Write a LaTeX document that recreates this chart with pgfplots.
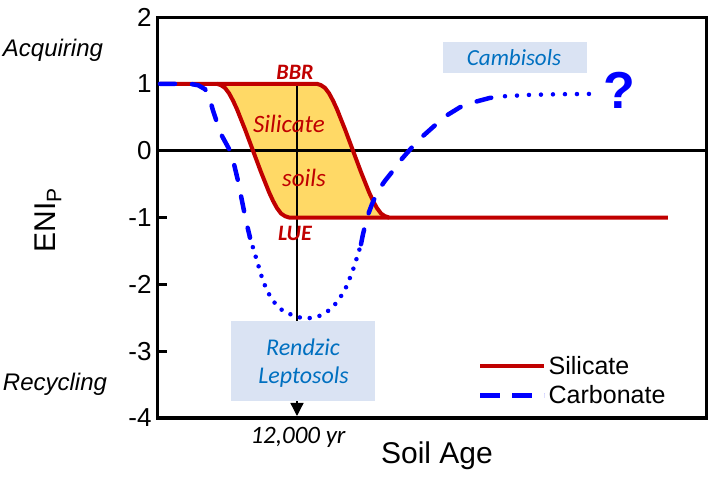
\documentclass[border=0pt]{standalone}
\usepackage{pgfplots}
\pgfplotsset{compat=1.18}
\usepackage{fontspec}
\setmainfont{Liberation Sans}
\newfontfamily\calfont{Carlito}
\usetikzlibrary{arrows.meta}
\definecolor{sred}{HTML}{C00000}
\definecolor{cblue}{HTML}{0000FF}
\definecolor{sfill}{HTML}{FFD966}
\definecolor{boxblue}{HTML}{DAE3F3}
\definecolor{tblue}{HTML}{0070C0}
\begin{document}
\begin{tikzpicture}
\begin{axis}[
  x=1bp, y=66.83bp,
  xmin=158, xmax=707, ymin=-4, ymax=2,
  axis line style={line width=3bp},
  xtick=\empty,
  ytick={-4,-3,...,2},
  ytick pos=left,
  tick align=inside,
  major tick length=9bp,
  major tick style={line width=3bp, black},
  /pgf/number format/assume math mode=true,
  yticklabel style={font=\fontsize{26bp}{30bp}\selectfont, xshift=-3bp},
  clip=false,
  legend image code/.code={\draw[#1] (0bp,0bp) -- (64bp,0bp);},
  legend style={at={(axis cs:478,-3.04)}, anchor=north west, draw=none, fill=none,
    inner sep=0pt, font=\fontsize{25bp}{30bp}\selectfont, row sep=6bp,
    cells={anchor=west}},
]
\addlegendimage{sred, line width=4bp}
\addlegendentry{Silicate}
\addlegendimage{cblue, line width=4.5bp, dash pattern=on 20bp off 12bp}
\addlegendentry{Carbonate}

% fill between silicate curves
\addplot[fill=sfill, draw=none, forget plot] coordinates {
(217,1)(221,0.98)(225,0.94)(229,0.86)(233,0.75)(237,0.62)(241,0.47)(245,0.32)(249,0.16)(253,0)
(257,-0.16)(261,-0.32)(265,-0.47)(269,-0.62)(273,-0.75)(277,-0.86)(281,-0.94)(285,-0.98)(289,-1)
(389,-1)(385,-0.98)(381,-0.94)(377,-0.86)(373,-0.75)(369,-0.62)(365,-0.47)(361,-0.32)(357,-0.16)
(353,0)(349,0.16)(345,0.32)(341,0.47)(337,0.62)(333,0.75)(329,0.86)(325,0.94)(321,0.98)(317,1)(217,1)};

% zero line
\addplot[black, line width=3bp, forget plot] coordinates {(158,0)(707,0)};

% 12,000 yr marker line
\addplot[black, line width=1.3bp, -{Triangle[length=13bp,width=13bp]}, forget plot] coordinates {(297,1)(297,-3.97)};

% silicate curves
\addplot[sred, line width=4bp, line join=round, forget plot] coordinates {
(160,1)(317,1)(321,0.98)(325,0.94)(329,0.86)(333,0.75)(337,0.62)(341,0.47)(345,0.32)(349,0.16)
(353,0)(357,-0.16)(361,-0.32)(365,-0.47)(369,-0.62)(373,-0.75)(377,-0.86)(381,-0.94)(385,-0.98)(389,-1)(668,-1)};
\addplot[sred, line width=4bp, line join=round, forget plot] coordinates {
(217,1)(221,0.98)(225,0.94)(229,0.86)(233,0.75)(237,0.62)(241,0.47)(245,0.32)(249,0.16)(253,0)
(257,-0.16)(261,-0.32)(265,-0.47)(269,-0.62)(273,-0.75)(277,-0.86)(281,-0.94)(285,-0.98)(289,-1)(389,-1)};

% carbonate curve
\addplot[cblue, line width=4.5bp, line cap=round, dash pattern=on 15bp off 17bp, forget plot] coordinates {
(160,1)(190,1)(198,0.98)(205,0.92)(209,0.82)(213,0.6)(217,0.42)(222,0.22)(230,0)(234,-0.2)(238,-0.45)
(242,-0.75)(246,-1.05)(250,-1.3)};
\addplot[cblue, line width=4.5bp, line cap=round, dash pattern=on 0bp off 10bp, forget plot] coordinates {
(250,-1.3)(254,-1.5)(258,-1.7)(263,-1.95)(268,-2.12)(273,-2.25)(283,-2.4)(297,-2.49)(308,-2.51)
(320,-2.47)(330,-2.38)(338,-2.25)(345,-2.08)(352,-1.83)(358,-1.55)(361,-1.4)};
\addplot[cblue, line width=4.5bp, line cap=round, dash pattern=on 15bp off 17bp, forget plot] coordinates {
(361,-1.4)(363,-1.25)(367,-1.0)(372,-0.8)(378,-0.6)(385,-0.45)(393,-0.3)(402,-0.12)(412,0.05)
(423,0.22)(435,0.38)(447,0.53)(460,0.65)(475,0.73)(490,0.79)(505,0.815)};
\addplot[cblue, line width=4.5bp, line cap=round, dash pattern=on 0bp off 12bp, forget plot] coordinates {
(505,0.815)(530,0.835)(560,0.845)(595,0.85)};

% boxes
\fill[boxblue] (axis cs:231,-2.549) rectangle (axis cs:375,-3.746);
\fill[boxblue] (axis cs:443,1.626) rectangle (axis cs:587,1.162);

% annotations
\node[text=tblue, font=\calfont\itshape\fontsize{24bp}{28bp}\selectfont] at (axis cs:303,-2.94) {Rendzic};
\node[text=tblue, font=\calfont\itshape\fontsize{24bp}{28bp}\selectfont] at (axis cs:303.5,-3.39) {Leptosols};
\node[text=tblue, font=\calfont\itshape\fontsize{23bp}{28bp}\selectfont] at (axis cs:514,1.40) {Cambisols};
\node[text=sred, font=\calfont\bfseries\itshape\fontsize{22bp}{26bp}\selectfont] at (axis cs:295,1.17) {BBR};
\node[text=sred, font=\calfont\bfseries\itshape\fontsize{22bp}{26bp}\selectfont] at (axis cs:295,-1.24) {LUE};
\node[text=sred, font=\calfont\itshape\fontsize{25bp}{30bp}\selectfont] at (axis cs:289,0.40) {Silicate};
\node[text=sred, font=\calfont\itshape\fontsize{25bp}{30bp}\selectfont] at (axis cs:304,-0.41) {soils};
\node[text=cblue, font=\bfseries\fontsize{52bp}{60bp}\selectfont] at (axis cs:619,0.91) {?};
\node[font=\calfont\itshape\fontsize{25bp}{30bp}\selectfont] at (axis cs:298,-4.285) {12,000 yr};
\node[font=\fontsize{30bp}{36bp}\selectfont] at (axis cs:437,-4.57) {Soil Age};
\node[rotate=90, font=\fontsize{30bp}{36bp}\selectfont] at (axis cs:48,-1.04) {ENI\textsubscript{P}};
\node[font=\itshape\fontsize{24bp}{28bp}\selectfont] at (axis cs:53,1.5) {Acquiring};
\node[font=\itshape\fontsize{24bp}{28bp}\selectfont] at (axis cs:55,-3.5) {Recycling};
\end{axis}
\pgfresetboundingbox
\useasboundingbox (-158bp,-60bp) rectangle (553bp,418bp);
\end{tikzpicture}
\end{document}
